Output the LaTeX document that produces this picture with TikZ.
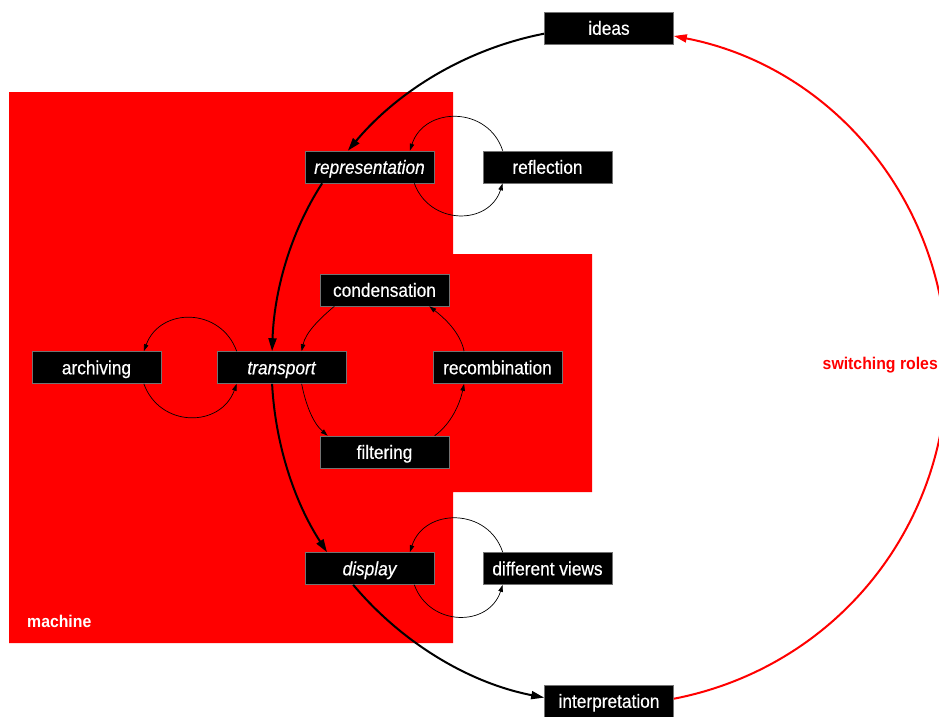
\documentclass[tikz,border=0pt]{standalone}
\usepackage{fontspec}
\setmainfont{Liberation Sans}
\newfontfamily\nodefont[FakeStretch=0.91,FakeBold=0.4]{Liberation Sans}
\newfontfamily\labelfont[FakeStretch=0.93]{Liberation Sans}
\usetikzlibrary{arrows.meta}
\begin{document}
\begin{tikzpicture}[x=1pt,y=-1pt,
  box/.style={fill=black,draw=black!55,line width=0.6pt,minimum width=129pt,minimum height=32pt,inner sep=0pt,text=white,text height=16.5pt,text depth=3pt,font=\nodefont\fontsize{19}{22}\selectfont},
  ibox/.style={box,font=\nodefont\fontsize{19}{22}\selectfont\itshape},
  lbl/.style={inner sep=1pt,font=\labelfont\fontsize{17}{20}\selectfont\bfseries},
  bigarrow/.style={line width=2pt,-{Triangle[length=13pt,width=8pt]}},
  redarrow/.style={line width=2pt,draw=red,-{Triangle[length=13pt,width=8pt]}},
  loop/.style={line width=0.7pt,-{Triangle[length=7pt,width=4.5pt]}}]
\useasboundingbox (0,0) rectangle (939,716);
\clip (0,0) rectangle (939,716);
% machine region
\fill[red] (9,92) -- (453,92) -- (453,254) -- (592,254) -- (592,492) -- (453,492) -- (453,643) -- (9,643) -- cycle;
\node[lbl,text=white,anchor=west] (machine) at (26,621) {machine};
\node[lbl,text=red,anchor=east] (roles) at (939,365) {switching roles};
% nodes
\node[box]  (ideas) at (609,28) {ideas};
\node[ibox] (representation) at (369.5,167) {representation};
\node[box]  (reflection) at (547.5,167) {reflection};
\node[box]  (condensation) at (384.5,290) {condensation};
\node[box]  (archiving) at (96.5,367.5) {archiving};
\node[ibox] (transport) at (281.5,367.5) {transport};
\node[box]  (recombination) at (497.5,367.5) {recombination};
\node[box]  (filtering) at (384.5,452) {filtering};
\node[ibox] (display) at (369.5,568.5) {display};
\node[box]  (views) at (547.5,568.5) {different views};
\node[box]  (interpretation) at (609,701) {interpretation};
\coordinate (rightmost) at (947,366);
% main cycle
\draw[bigarrow] (ideas.185) to[out=191,in=50,looseness=0.88] (representation.143);
\draw[bigarrow] (representation.199) to[out=237,in=88,looseness=0.87] (transport.120);
\draw[bigarrow] (transport.240) to[out=273,in=123,looseness=0.87] (display.159);
\draw[bigarrow] (display.225) to[out=310,in=169,looseness=0.88] (interpretation.177);
\draw[line width=2pt,red] (interpretation.2) to[out=11,in=270,looseness=0.97] (rightmost);
\draw[redarrow] (rightmost) to[out=90,in=-11,looseness=0.97] (ideas.-7);
% reflection loop
\draw[loop] (reflection.160) to[out=108,in=72,looseness=1.3] (representation.22);
\draw[loop] (representation.340) to[out=290,in=252,looseness=1.3] (reflection.200);
% different views loop
\draw[loop] (views.160) to[out=108,in=72,looseness=1.3] (display.22);
\draw[loop] (display.340) to[out=290,in=252,looseness=1.3] (views.200);
% archiving loop
\draw[loop] (transport.160) to[out=110,in=70,looseness=1.3] (archiving.19);
\draw[loop] (archiving.341) to[out=290,in=250,looseness=1.3] (transport.200);
% transport cycle
\draw[loop] (condensation.198) to[out=220,in=78,looseness=0.88] (transport.39);
\draw[loop] (transport.321) to[out=281,in=139,looseness=0.88] (filtering.164);
\draw[loop] (filtering.18) to[out=36,in=258,looseness=0.88] (recombination.206);
\draw[loop] (recombination.154) to[out=102,in=322,looseness=0.88] (condensation.340);
\end{tikzpicture}
\end{document}
